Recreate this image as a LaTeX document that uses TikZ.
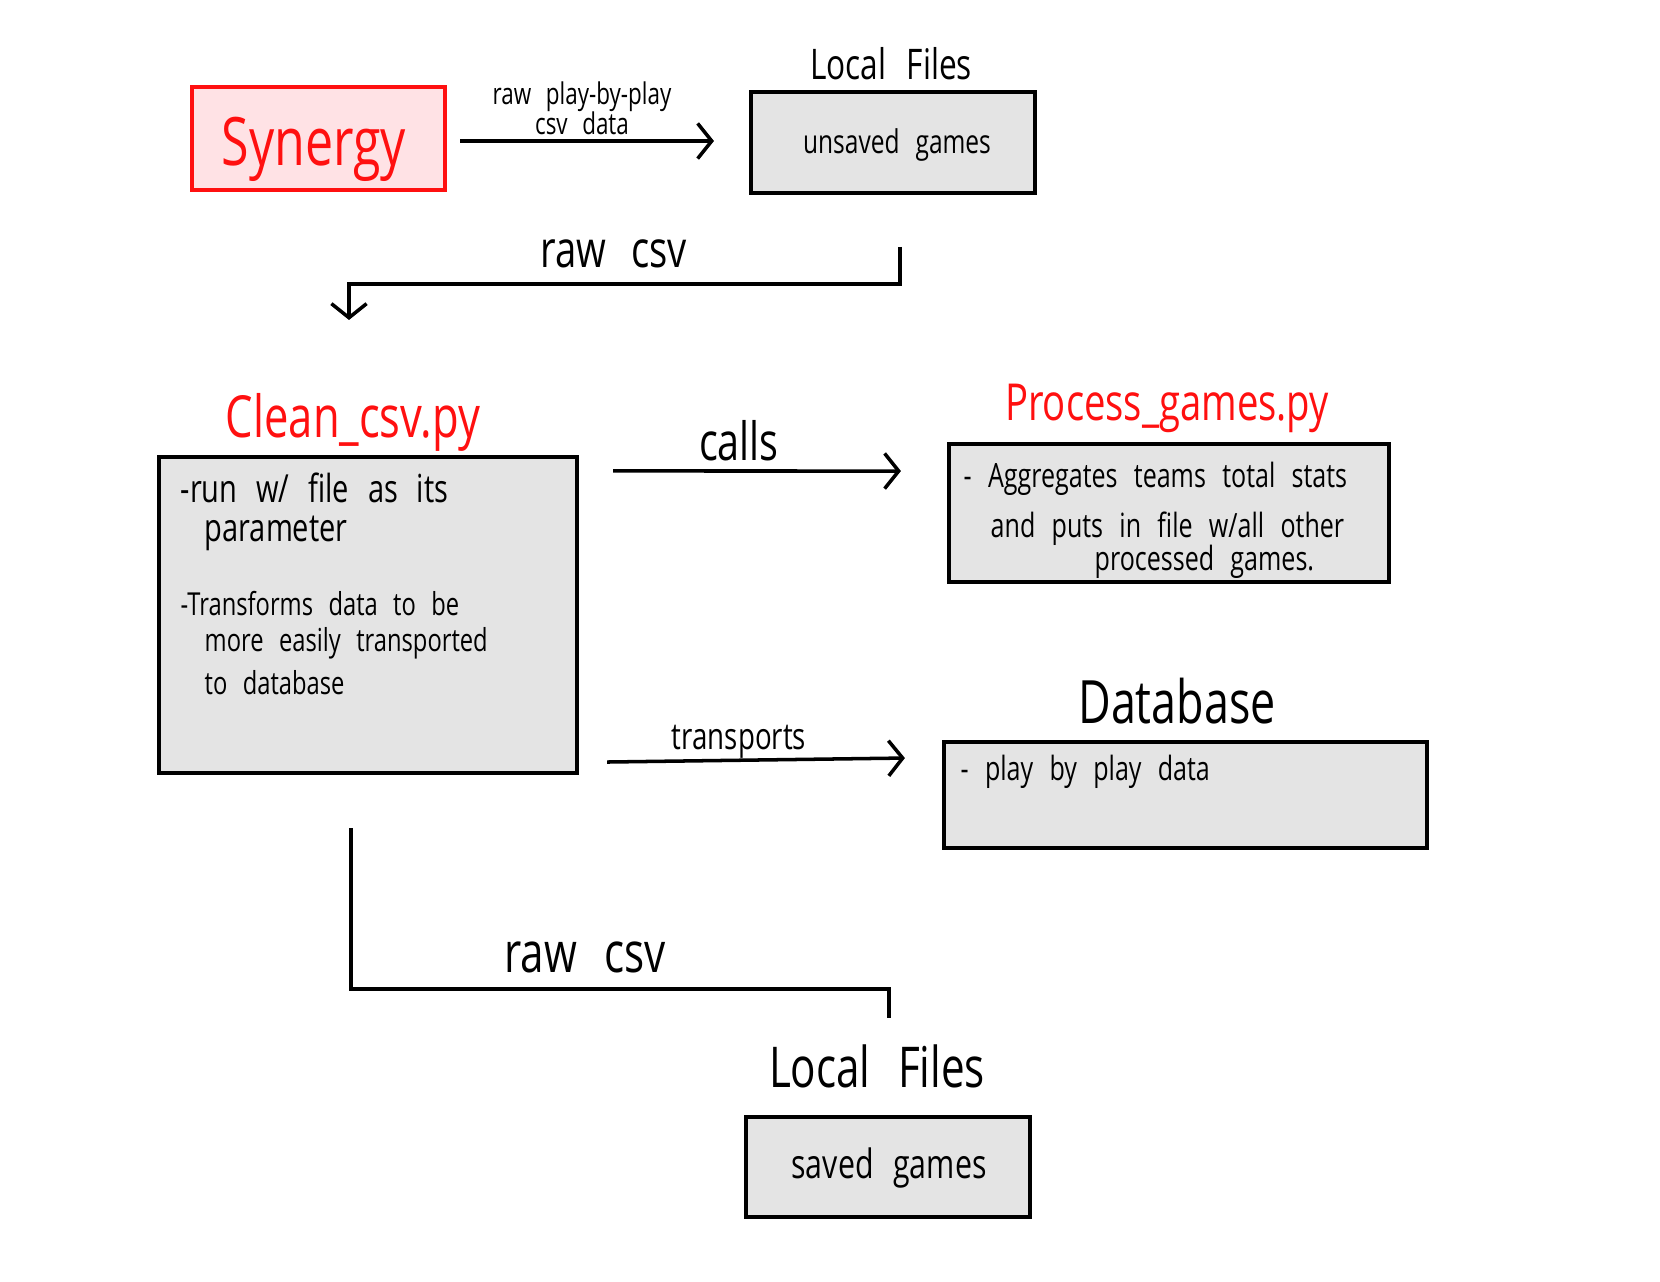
\documentclass[tikz,border=0pt]{standalone}
\usepackage{fontspec}
\setmainfont{Open Sans}[FakeStretch=0.75,WordSpace=2.5]
\usetikzlibrary{arrows.meta,positioning}
\definecolor{boxgray}{HTML}{E4E4E4}
\definecolor{pinkfill}{HTML}{FFE2E5}
\definecolor{handred}{HTML}{FF1010}

\begin{document}
\begin{tikzpicture}[x=0.01cm,y=-0.01cm,
    gbox/.style={draw,fill=boxgray,line width=1.1pt,inner sep=0pt},
    rbox/.style={draw=handred,fill=pinkfill,line width=1.1pt,inner sep=0pt},
    conn/.style={line width=1pt},
    arr/.style={conn,-{Straight Barb[length=4pt,width=10pt,line width=1pt]}},
    ttl/.style={inner sep=0pt,anchor=base,font=\fontsize{#1}{#1}\selectfont},
    rttl/.style={ttl=#1,text=handred},
    btxt/.style={inner sep=0pt,anchor=base west,font=\fontsize{#1}{#1}\selectfont},
]
        \useasboundingbox (0,0) rectangle (1660,1282);
        % top row
        \node[rbox,minimum width=2.53cm,minimum height=1.03cm] (synergy) at (318.5,138.5) {};
        \node[rttl=19pt] (synlbl) at (314,166) {Synergy};
        \node[gbox,minimum width=2.84cm,minimum height=1.01cm] (unsaved) at (893,142.5) {};
        \node[ttl=9.3pt] (unsavedlbl) at (897,154) {unsaved games};
        \node[ttl=12pt] (localtop) at (891,80) {Local Files};
        \node[ttl=8.5pt] (rawpbp) at (582,105) {raw play-by-play};
        \node[ttl=8.5pt] (csvdata) at (582,135) {csv data};
        \draw[arr,shorten <=0.13cm,shorten >=0.35cm] (synergy.east |- 0,141) -- (unsaved.west |- 0,141);
        % scripts
        \node[gbox,minimum width=4.18cm,minimum height=3.16cm] (clean) at (368,615) {};
        \node[rttl=16.5pt] (cleanlbl) at (353,437) {Clean\_csv.py};
        \node[btxt=11pt] (c1) at (180,502) {-run w/ file as its};
        \node[btxt=11pt] (c2) at (204,541) {parameter};
        \node[btxt=9pt] (c3) at (180,615) {-Transforms data to be};
        \node[btxt=9pt] (c4) at (204,651) {more easily transported};
        \node[btxt=9pt] (c5) at (204,694) {to database};
        \draw[arr] ([shift={(7,52)}]unsaved.south) -- ++(0,37) -| ([shift={(-19,-135)}]clean.north);
        \node[ttl=14.5pt] (rawtop) at (614,268) {raw csv};
        \node[gbox,minimum width=4.40cm,minimum height=1.38cm] (process) at (1169,513) {};
        \node[rttl=14.5pt] (proclbl) at (1167,420) {Process\_games.py};
        \node[btxt=9.5pt] (p1) at (963,487) {- Aggregates teams total stats};
        \node[btxt=9.5pt] (p2) at (990,537) {and puts in file w/all other};
        \node[btxt=9.5pt] (p3) at (1094,570) {processed games.};
        \draw[arr] ([shift={(34,16)}]clean.north east) -- ([shift={(-46,29)}]process.north west);
        \node[ttl=15pt] (calls) at (739,460) {calls};
        % database
        \node[gbox,minimum width=4.83cm,minimum height=1.06cm] (database) at (1185.5,795) {};
        \node[ttl=17pt] (dblbl) at (1177,723) {Database};
        \node[btxt=9.5pt] (d1) at (960,780) {- play by play data};
        \draw[arr] ([shift={(28,-13)}]clean.south east) -- ([shift={(-37,18)}]database.north west);
        \node[ttl=10.5pt] (transports) at (739,749) {transports};
        % saved
        \node[gbox,minimum width=2.84cm,minimum height=1.00cm] (saved) at (888,1167) {};
        \node[ttl=11.5pt] (savedlbl) at (889,1178) {saved games};
        \node[ttl=16pt] (localbot) at (877,1087) {Local Files};
        \draw[conn] ([shift={(-17,53)}]clean.south) |- ([shift={(1,-126)}]saved.north) -- ([shift={(1,-97)}]saved.north);
        \node[ttl=16pt] (rawbot) at (585,972) {raw csv};
    \end{tikzpicture}
\end{document}
